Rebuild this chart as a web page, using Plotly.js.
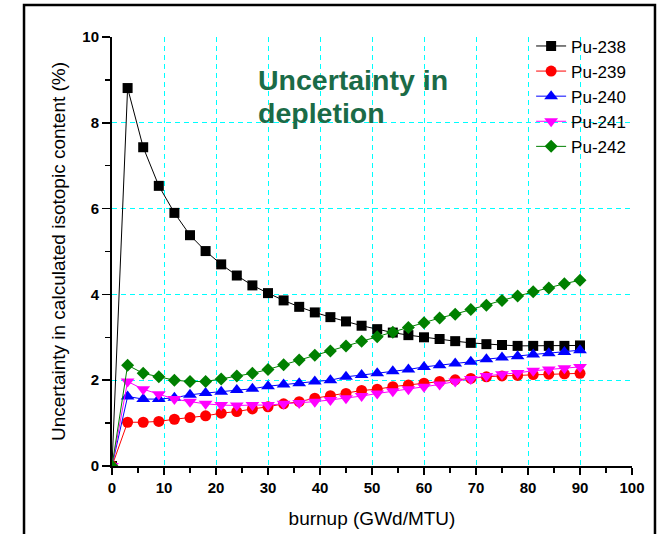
<!DOCTYPE html>
<html>
<head>
<meta charset="utf-8">
<script src="https://cdn.plot.ly/plotly-3.0.1.min.js"></script>
<style>html,body{margin:0;padding:0;background:#fff;}#chart{width:661px;height:534px;}</style>
</head>
<body>
<div id="chart"></div>
<script>
// burnup points (GWd/MTU)
const burnup = [0,3,6,9,12,15,18,21,24,27,30,33,36,39,42,45,48,51,54,57,60,63,66,69,72,75,78,81,84,87,90];

const seriesNames = ["Pu-238","Pu-239","Pu-240","Pu-241","Pu-242"];

const pu238 = [0,8.81,7.43,6.53,5.90,5.38,5.01,4.70,4.44,4.21,4.03,3.86,3.71,3.58,3.47,3.37,3.27,3.19,3.11,3.05,3.00,2.96,2.91,2.87,2.84,2.82,2.80,2.80,2.80,2.80,2.81];
const pu239 = [0,1.02,1.02,1.04,1.09,1.13,1.17,1.23,1.27,1.33,1.38,1.45,1.50,1.58,1.64,1.69,1.76,1.79,1.85,1.89,1.93,1.97,2.01,2.04,2.08,2.10,2.11,2.13,2.14,2.15,2.16];
const pu240 = [0,1.62,1.56,1.56,1.59,1.66,1.70,1.73,1.77,1.80,1.86,1.90,1.93,1.97,2.00,2.08,2.12,2.16,2.21,2.25,2.31,2.35,2.39,2.43,2.49,2.53,2.56,2.60,2.63,2.66,2.70];
const pu241 = [0,1.97,1.79,1.67,1.56,1.50,1.45,1.42,1.41,1.42,1.42,1.45,1.47,1.50,1.54,1.58,1.63,1.69,1.74,1.79,1.85,1.90,1.97,2.03,2.10,2.14,2.17,2.22,2.25,2.28,2.31];
const pu242 = [0,2.35,2.16,2.08,2.00,1.97,1.97,2.03,2.10,2.16,2.25,2.36,2.47,2.58,2.68,2.80,2.91,3.01,3.12,3.23,3.34,3.45,3.54,3.65,3.75,3.86,3.96,4.06,4.15,4.25,4.33];

const xTickVals = [0,10,20,30,40,50,60,70,80,90,100];
const yTickVals = [0,2,4,6,8,10];

const values = [pu238, pu239, pu240, pu241, pu242];
const colors = ["#000000","#ff0000","#0000ff","#ff00ff","#008000"];
const symbols = ["square","circle","triangle-up","triangle-down","diamond"];
const sizes = [10,11,12,12,10];

const FONT = "Arial, 'Liberation Sans', sans-serif";

const traces = values.map((v,i) => ({
  x: burnup, y: v, name: seriesNames[i], type: "scatter", mode: "lines+markers",
  line: {color: colors[i], width: 1},
  marker: {color: colors[i], symbol: symbols[i], size: sizes[i], line: {width: 0}}
}));

const layout = {
  width: 661, height: 534,
  margin: {l: 112, r: 29, t: 37, b: 68},
  paper_bgcolor: "#ffffff", plot_bgcolor: "#ffffff",
  font: {family: FONT, color: "#000"},
  showlegend: true,
  legend: {x: 0.806, y: 1.02, xanchor: "left", yanchor: "top", bgcolor: "rgba(0,0,0,0)",
           font: {family: FONT, size: 17, color: "#000"}, tracegroupgap: 0},
  xaxis: {
    range: [0, 100], tickvals: xTickVals, ticktext: xTickVals.map(String),
    showline: true, linecolor: "#000", linewidth: 2, mirror: false,
    ticks: "outside", ticklen: 7, tickwidth: 1.5, tickcolor: "#000",
    minor: {dtick: 5, ticks: "outside", ticklen: 5, tickwidth: 1.5, tickcolor: "#000", showgrid: false},
    showgrid: true, gridcolor: "#00ffff", gridwidth: 1, griddash: "5px,4px",
    zeroline: false,
    tickfont: {family: FONT, size: 15, color: "#000", weight: "bold"},
    title: {text: "burnup (GWd/MTU)", font: {family: FONT, size: 19, color: "#000"}, standoff: 17}
  },
  yaxis: {
    range: [0, 10], tickvals: yTickVals, ticktext: yTickVals.map(String),
    showline: true, linecolor: "#000", linewidth: 2, mirror: false,
    ticks: "outside", ticklen: 8, tickwidth: 1.5, tickcolor: "#000",
    minor: {dtick: 1, ticks: "outside", ticklen: 5, tickwidth: 1.5, tickcolor: "#000", showgrid: false},
    showgrid: true, gridcolor: "#00ffff", gridwidth: 1, griddash: "5px,4px",
    zeroline: false,
    tickfont: {family: FONT, size: 15, color: "#000", weight: "bold"},
    title: {text: "Uncertainty in calculated isotopic content (%)", font: {family: FONT, size: 19, color: "#000"}, standoff: 12}
  },
  annotations: [
    {xref: "paper", yref: "paper", x: 0.276, y: 0.899, xanchor: "left", yanchor: "middle", showarrow: false,
     text: "<b>Uncertainty in</b>", font: {family: FONT, size: 28.5, color: "#1b6b47"}},
    {xref: "paper", yref: "paper", x: 0.276, y: 0.824, xanchor: "left", yanchor: "middle", showarrow: false,
     text: "<b>depletion</b>", font: {family: FONT, size: 28.5, color: "#1b6b47"}}
  ],
  shapes: [
    {type: "rect", xref: "paper", yref: "paper", x0: -0.1692, x1: 1.0442, y0: -0.175, y1: 1.0746,
     line: {color: "#000", width: 2.5}, fillcolor: "rgba(0,0,0,0)", layer: "above"}
  ]
};

Plotly.newPlot("chart", traces, layout, {displayModeBar: false, staticPlot: true});
</script>
</body>
</html>
